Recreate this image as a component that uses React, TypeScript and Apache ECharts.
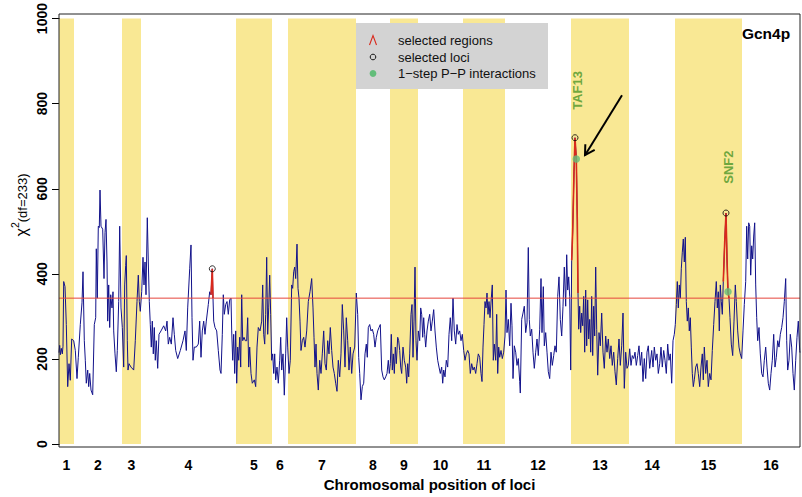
import React, { useEffect, useRef } from 'react';
import * as echarts from 'echarts';

const FONT = "'Liberation Sans', Arial, Helvetica, sans-serif";

const chrLabels = ['1', '2', '3', '4', '5', '6', '7', '8', '9', '10', '11', '12', '13', '14', '15', '16'];
// locus index at which each chromosome starts / ends
const chrBounds = [0, 15, 63, 82, 177, 213, 229, 297, 331, 359, 404, 446, 512, 570, 616, 683, 741];
const threshold = 343;

// [locus index, chi-square]
const profile: [number, number][] = [
  [0, 215], [0.7, 232], [1.3, 210], [2.3, 225], [3.3, 212], [4, 230], [4.7, 382], [6, 370], [7.3, 281], [8.7, 135], [10, 189], [11.3, 150], [12.7, 247], [14.7, 243], [16.3, 220], [18, 154], [19.3, 204], [21.3, 281], [23, 332], [24, 405], [25.3, 243], [26.3, 197], [27.3, 143], [28.7, 174], [29.7, 135], [30.7, 166], [32, 127], [33.7, 116], [35.3, 281], [36.7, 297], [37.3, 459], [38.3, 343], [39.3, 512], [40.3, 509], [41, 597], [42, 512], [43.7, 505], [45, 389], [46, 497], [47, 528], [48, 428], [48.7, 289], [49.7, 374], [50.7, 274], [51.7, 351], [53, 320], [54, 358], [54.7, 266], [56, 212], [57.3, 170], [58.3, 220], [59.7, 335], [60.7, 512], [62, 320], [63.3, 274], [64.7, 181], [65.7, 374], [66.7, 420], [67.3, 443], [68.3, 243], [69, 174], [70, 189], [72, 181], [74.7, 174], [76.3, 243], [78, 335], [79.3, 397], [80.3, 335], [81.3, 312], [82.7, 358], [84, 439], [85, 374], [86, 428], [87, 351], [88.3, 532], [89.3, 428], [90.3, 335], [91.3, 281], [92.3, 228], [93.3, 289], [94.3, 212], [95.3, 274], [96.3, 197], [97.3, 243], [98.7, 178], [100, 258], [102, 266], [104.7, 278], [106.7, 266], [108, 289], [109.3, 235], [110.7, 251], [112.3, 235], [114, 297], [115.3, 258], [116.7, 220], [118.7, 201], [121.3, 220], [124, 243], [126, 266], [127.3, 220], [128.7, 320], [130.7, 412], [132, 468], [133, 297], [134, 197], [135.3, 228], [137.3, 228], [139.3, 235], [140.7, 289], [142, 204], [143.3, 266], [144.7, 289], [146, 258], [147.3, 289],
  [149.3, 328], [150.7, 358], [152, 351], [153.3, 412], [154, 343], [154.7, 289], [156, 274], [157.7, 266], [159.3, 220], [161, 174], [162, 166], [163.3, 258], [164.3, 351], [165.3, 305], [166.7, 328], [168, 335], [169.3, 305], [170.7, 339], [172, 343], [172.7, 266], [173.7, 197], [174.7, 258], [175.7, 166], [176.7, 266], [177.7, 143], [178.7, 228], [179.7, 197], [180.7, 251], [181.7, 181], [182.7, 351], [183.7, 243], [185, 251], [186.3, 243], [187.7, 243], [188.7, 297], [189.7, 181], [190.7, 228], [192, 166], [193.3, 143], [195.3, 151], [196.7, 135], [198, 228], [199.3, 274], [201, 266], [202.7, 289], [203.7, 374], [204.7, 258], [205.7, 235], [206.7, 305], [207.7, 439], [208.7, 258], [209.7, 320], [210.7, 397], [211.7, 305], [212.7, 197], [213.7, 212], [214.7, 166], [215.7, 212], [216.7, 151], [218, 181], [219.3, 143], [220.7, 197], [221.7, 251], [222.7, 174], [224, 212], [225.3, 115], [226.7, 212], [227.7, 297], [228.7, 228], [230, 166], [231.3, 197], [232.7, 374], [233.7, 366], [234.7, 405], [235.7, 416], [236.7, 389], [238, 470], [239, 366], [240, 343], [241, 289], [242, 220], [243.3, 243], [244.7, 251], [246, 228], [247.7, 266], [249.3, 335], [251, 358], [252.7, 389], [254, 320], [255, 251], [256, 181], [257, 235], [258, 166], [259.3, 127], [260.7, 197], [262, 166], [263.3, 212], [264.7, 266], [266, 189], [267.3, 174], [268.7, 243], [270, 212], [271.3, 274], [272.7, 220], [274, 181], [275.3, 166], [276.7, 143], [278, 124], [279.3, 197], [280.7, 158], [282, 212], [283.3, 328], [284.7, 266], [286, 181], [287.3, 297], [288.7, 243], [290, 174], [291.3, 228], [292.7, 166], [294, 212],
  [295.7, 228], [297.3, 355], [298.7, 305], [299.7, 204], [300.7, 166], [302, 104], [303.3, 135], [304.7, 143], [306, 212], [307.3, 235], [308.3, 204], [309.3, 274], [310.7, 281], [312, 266], [313.3, 270], [314.7, 258], [316, 228], [317.3, 251], [318.7, 266], [320, 274], [321.3, 281], [322.7, 174], [324, 158], [325.3, 151], [326.7, 158], [328, 166], [329.3, 197], [330.3, 166], [331.3, 189], [332.3, 258], [333.3, 174], [334.3, 212], [335.3, 166], [336.3, 228], [337.3, 189], [338.7, 251], [339.7, 243], [340.7, 220], [341.7, 181], [342.7, 166], [344, 228], [345.3, 197], [346.7, 181], [347.7, 143], [348.7, 189], [349.7, 158], [350.7, 212], [352, 305], [353, 328], [354, 204], [355, 289], [356, 416], [357, 243], [358, 197], [359.3, 266], [360.7, 243], [361.7, 320], [362.7, 305], [363.7, 251], [364.7, 297], [365.7, 258], [366.7, 228], [368, 266], [369.3, 289], [370.7, 305], [372, 266], [373.3, 289], [374.7, 316], [376, 266], [377.3, 228], [378.7, 197], [380, 181], [381.3, 166], [382.7, 181], [383.7, 143], [384.7, 174], [386, 158], [387.3, 197], [388.7, 181], [390, 258], [391.3, 297], [392.7, 243], [394, 343], [395.3, 266], [396.7, 235], [398, 281], [399.3, 258], [400.7, 266], [402, 243], [403.3, 258], [404.7, 220], [406, 197], [407.3, 212], [408.7, 220], [410, 212], [411.3, 166], [412.7, 189], [414, 174], [415.3, 181], [416.7, 166], [418, 189], [419.3, 212], [420.7, 204], [422, 166], [423, 147], [424, 228], [425, 281], [426, 335], [427, 320], [428, 355], [429, 305], [430, 335], [431, 297], [432.3, 343], [433.3, 374], [434.3, 197], [435.3, 235], [436.7, 197], [437.7, 305], [438.7, 166], [439.7, 228], [440.7, 204], [442, 220],
  [443.3, 201], [444.7, 216], [446, 254], [447, 362], [448, 262], [449.3, 293], [450.7, 231], [452, 331], [453, 278], [454, 154], [455.3, 231], [456.7, 216], [458, 185], [459.3, 201], [460.7, 147], [461.3, 120], [462.7, 293], [464, 308], [465.3, 324], [466.7, 262], [468, 285], [469.3, 462], [470.3, 293], [471.3, 254], [472.7, 270], [474, 216], [475.3, 178], [476.7, 216], [478, 247], [479.3, 208], [480.7, 270], [482, 389], [483, 262], [484.3, 370], [485.3, 231], [486.7, 262], [488, 216], [489.3, 170], [490.7, 154], [492, 216], [493.3, 185], [494.7, 208], [496, 231], [497.3, 216], [498.7, 347], [500, 393], [501.3, 293], [502.7, 254], [504, 324], [505.3, 416], [506.7, 324], [507.7, 445], [508.7, 362], [509.7, 393], [510.7, 347], [511.7, 174], [512.7, 432], [513.7, 501], [515, 640], [516, 720], [517.3, 670], [518.3, 524], [519, 355], [519.7, 270], [520.7, 324], [521.7, 262], [522.7, 308], [523.7, 278], [524.7, 347], [525.7, 216], [526.7, 362], [527.7, 231], [528.7, 339], [529.7, 247], [530.7, 293], [531.7, 216], [532.7, 347], [533.7, 208], [534.7, 324], [535.7, 254], [536.7, 416], [537.7, 270], [538.7, 162], [540, 262], [541.3, 231], [542.7, 308], [544, 216], [545.3, 178], [546.7, 254], [548, 216], [549.3, 247], [550.7, 201], [552, 231], [553.3, 185], [554.7, 216], [556, 170], [557.3, 139], [558.7, 201], [560, 247], [561.3, 185], [562.7, 231], [564, 308], [565.3, 131], [566.7, 216], [568, 178], [569.3, 185], [570.7, 224], [572, 185], [573.3, 208], [574.7, 201], [576, 216], [577.3, 185], [578.7, 208], [580, 231], [581.3, 185], [582.7, 216], [584, 147], [585.3, 201], [586.7, 154], [588, 216], [589.3, 231], [590.7, 178],
  [592.7, 220], [594, 181], [595.3, 228], [596.7, 197], [598, 212], [599.3, 166], [600.7, 189], [602, 228], [603.3, 181], [604.7, 220], [606, 197], [607.3, 166], [608.7, 235], [610, 197], [611.3, 212], [612.7, 143], [614, 243], [615.3, 258], [616.3, 281], [617.3, 328], [618.3, 382], [619.3, 320], [620.3, 374], [621.3, 343], [622.3, 412], [623.3, 451], [624.3, 482], [625.3, 428], [626.3, 486], [627.3, 335], [628.3, 289], [629.3, 320], [630.3, 266], [631.3, 297], [632.3, 228], [633.3, 166], [634.3, 135], [635.3, 151], [636.7, 181], [638, 189], [639.3, 166], [640.7, 135], [642, 181], [643.3, 212], [644.3, 151], [645.3, 228], [646.7, 166], [648, 197], [649.3, 135], [650.7, 166], [652, 151], [653.3, 220], [654.7, 281], [656, 335], [657.3, 382], [658.3, 320], [659.3, 358], [660.3, 266], [661.3, 374], [662.3, 335], [663.3, 305], [664.3, 382], [665.7, 474], [667, 543], [668, 435], [669, 358], [670, 343], [671, 297], [672.3, 235], [673.7, 208], [675, 289], [676.3, 374], [677.3, 335], [678.7, 266], [680, 228], [681.3, 212], [682.7, 201], [684, 266], [685.3, 328], [686.7, 382], [687.7, 512], [688.7, 435], [689.7, 520], [690.7, 512], [691.7, 397], [692.7, 466], [693.7, 435], [694.7, 489], [695.7, 520], [696.7, 374], [697.7, 297], [698.7, 243], [700, 274], [701.3, 212], [702.7, 166], [704, 158], [705.3, 197], [706.7, 228], [708, 181], [709.3, 143], [710.7, 127], [712, 166], [713.3, 197], [714.7, 258], [716, 181], [717.3, 204], [718.7, 243], [720, 228], [721.3, 258], [722.7, 274], [724, 297], [725.3, 335], [726.7, 389], [727.7, 243], [728.7, 174], [730, 197], [731.3, 258], [732.7, 228], [734, 166], [735.3, 127], [736.7, 197], [738, 251], [739.3, 289], [740.7, 220], [741, 215],
];

// ranges of locus index drawn as selected regions
const selectedRegions: [number, number][] = [[152, 154], [512.7, 519], [664.3, 670]];
const selectedLoci = [153.3, 516, 667];
const ppInteractions = [517.3, 669];
const geneLabels = [
  { name: 'TAF13', pos: 518, value: 831 },
  { name: 'SNF2', pos: 669, value: 651 },
];
const arrowFrom: [number, number] = [563, 820];
const arrowTo: [number, number] = [526, 679];

const legendItems = ['selected regions', 'selected loci', '1\u2212step P\u2212P interactions'];

const BAND = '#F9E894';
const NAVY = '#12128A';
const RED = '#D9291C';
const THRESH = '#E5453B';
const GREEN_DOT = '#63BD7A';
const GREEN_TXT = '#4A9628';

function lookup(pos: number): [number, number] {
  const p = profile.find((d) => Math.abs(d[0] - pos) < 1e-6);
  return p ? [p[0], p[1]] : [pos, 0];
}

export default function App() {
  const ref = useRef<HTMLDivElement>(null);

  useEffect(() => {
    document.body.style.margin = '0';
    if (!ref.current) return;
    const chart = echarts.init(ref.current, undefined, { renderer: 'svg' });

    const xMin = chrBounds[0];
    const xMax = chrBounds[chrBounds.length - 1];
    const centers = chrLabels.map((_, i) => (chrBounds[i] + chrBounds[i + 1]) / 2);
    const bands = chrLabels
      .map((_, i) => (i % 2 === 0 ? [{ xAxis: chrBounds[i] }, { xAxis: chrBounds[i + 1] }] : null))
      .filter(Boolean);

    const baseGraphic: any[] = [
      {
        type: 'rect',
        z: 100,
        silent: true,
        shape: { x: 59, y: 14, width: 741, height: 433 },
        style: { fill: 'none', stroke: '#222', lineWidth: 1 },
      },
      {
        type: 'rect',
        z: 90,
        shape: { x: 356, y: 23, width: 192, height: 66 },
        style: { fill: '#D3D3D3' },
      },
      {
        type: 'polyline',
        z: 91,
        shape: { points: [[369.5, 45], [373, 35.5], [376.5, 45]] },
        style: { stroke: RED, lineWidth: 1.1, fill: 'none' },
      },
      {
        type: 'circle',
        z: 91,
        shape: { cx: 373, cy: 57, r: 2.8 },
        style: { stroke: '#000', lineWidth: 0.9, fill: 'none' },
      },
      {
        type: 'circle',
        z: 91,
        shape: { cx: 373, cy: 73.5, r: 3.4 },
        style: { fill: GREEN_DOT },
      },
      ...legendItems.map((t, i) => ({
        type: 'text',
        z: 91,
        x: 398,
        y: [40, 57, 73.5][i],
        style: { text: t, fontSize: 13, fontFamily: FONT, fill: '#111', verticalAlign: 'middle' },
      })),
      {
        type: 'text',
        z: 91,
        x: 766,
        y: 33,
        style: { text: 'Gcn4p', fontSize: 15.5, fontWeight: 'bold', fontFamily: FONT, fill: '#000', align: 'center', verticalAlign: 'middle' },
      },
      {
        type: 'text',
        z: 91,
        x: 19,
        y: 205,
        rotation: Math.PI / 2,
        style: {
          text: '{a|\u03c7}{b|2}{c|(df=233)}',
          fontFamily: FONT,
          align: 'center',
          verticalAlign: 'middle',
          fill: '#000',
          rich: {
            a: { fontSize: 16, fontFamily: FONT, verticalAlign: 'bottom' },
            b: { fontSize: 10.5, fontFamily: FONT, verticalAlign: 'bottom', padding: [0, 0, 9, 0] },
            c: { fontSize: 13, fontFamily: FONT, verticalAlign: 'bottom' },
          },
        },
      },
    ];

    const option: any = {
      animation: false,
      grid: { left: 59, top: 14, width: 741, height: 433, show: false },
      xAxis: {
        type: 'value',
        min: xMin,
        max: xMax,
        axisLine: { show: false },
        axisTick: { show: false },
        splitLine: { show: false },
        axisLabel: {
          customValues: centers,
          formatter: (v: number) => {
            const i = centers.findIndex((c) => Math.abs(c - v) < 1e-6);
            return i >= 0 ? chrLabels[i] : '';
          },
          fontSize: 14,
          fontWeight: 'bold',
          fontFamily: FONT,
          color: '#000',
          margin: 14,
        },
        name: 'Chromosomal position of loci',
        nameLocation: 'middle',
        nameGap: 25,
        nameTextStyle: { fontSize: 15, fontWeight: 'bold', fontFamily: FONT, color: '#000' },
      },
      yAxis: {
        type: 'value',
        min: 0,
        max: 1000,
        interval: 200,
        axisLine: { show: true, lineStyle: { color: '#000', width: 1 } },
        axisTick: { show: true, length: 7, lineStyle: { color: '#000' } },
        splitLine: { show: false },
        axisLabel: {
          rotate: 90,
          formatter: (v: number) => String(v),
          fontSize: 14,
          fontWeight: 'bold',
          fontFamily: FONT,
          color: '#000',
          margin: 10,
        },
      },
      series: [
        {
          type: 'line',
          data: [],
          z: 1,
          silent: true,
          markArea: { silent: true, itemStyle: { color: BAND }, data: bands },
        },
        {
          type: 'line',
          data: profile,
          z: 3,
          symbol: 'none',
          showSymbol: false,
          lineStyle: { color: NAVY, width: 1 },
        },
        {
          type: 'line',
          z: 4,
          symbol: 'none',
          data: [[xMin, threshold], [xMax, threshold]],
          lineStyle: { color: THRESH, width: 1 },
        },
        ...selectedRegions.map((r) => ({
          type: 'line',
          z: 5,
          symbol: 'none',
          data: profile.filter((p) => p[0] >= r[0] - 1e-6 && p[0] <= r[1] + 1e-6),
          lineStyle: { color: RED, width: 1.6 },
        })),
        {
          type: 'scatter',
          z: 6,
          symbol: 'circle',
          symbolSize: 6,
          data: selectedLoci.map(lookup),
          itemStyle: { color: 'rgba(0,0,0,0)', borderColor: '#000', borderWidth: 1 },
        },
        {
          type: 'scatter',
          z: 7,
          symbol: 'circle',
          symbolSize: 7.5,
          data: ppInteractions.map(lookup),
          itemStyle: { color: GREEN_DOT },
        },
        {
          type: 'scatter',
          z: 8,
          symbolSize: 1,
          itemStyle: { color: 'rgba(0,0,0,0)' },
          data: geneLabels.map((g) => ({ name: g.name, value: [g.pos, g.value] })),
          label: {
            show: true,
            position: 'inside',
            formatter: '{b}',
            rotate: 90,
            color: GREEN_TXT,
            fontWeight: 'bold',
            fontSize: 13,
            fontFamily: FONT,
          },
        },
      ],
      graphic: baseGraphic,
    };

    chart.setOption(option);

    const p0 = chart.convertToPixel({ gridIndex: 0 }, arrowFrom) as number[];
    const p1 = chart.convertToPixel({ gridIndex: 0 }, arrowTo) as number[];
    const ang = Math.atan2(p1[1] - p0[1], p1[0] - p0[0]);
    const L = 11;
    const a = Math.PI / 6;
    const h1 = [p1[0] - L * Math.cos(ang - a), p1[1] - L * Math.sin(ang - a)];
    const h2 = [p1[0] - L * Math.cos(ang + a), p1[1] - L * Math.sin(ang + a)];
    const arrowGraphic = [
      {
        type: 'line',
        z: 95,
        shape: { x1: p0[0], y1: p0[1], x2: p1[0], y2: p1[1] },
        style: { stroke: '#000', lineWidth: 2 },
      },
      {
        type: 'polyline',
        z: 95,
        shape: { points: [h1, p1, h2] },
        style: { stroke: '#000', lineWidth: 2, fill: 'none', lineJoin: 'miter' },
      },
    ];
    chart.setOption({ ...option, graphic: [...baseGraphic, ...arrowGraphic] }, true);

    return () => chart.dispose();
  }, []);

  return <div ref={ref} style={{ width: 802, height: 497 }} />;
}
